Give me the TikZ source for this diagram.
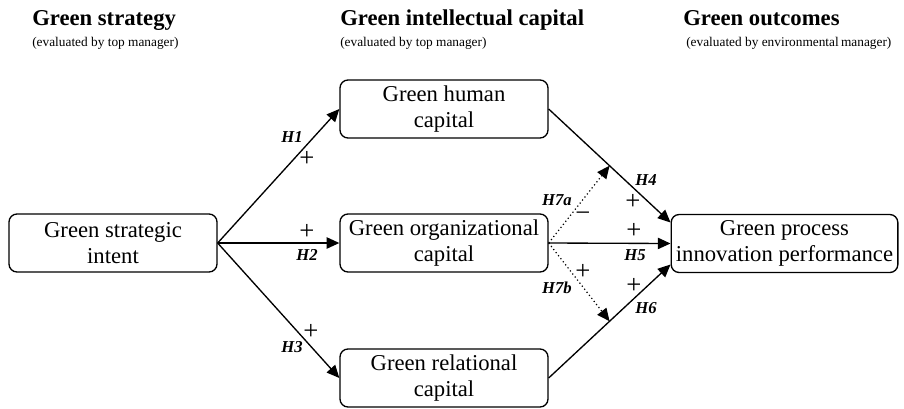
\documentclass[tikz,border=0pt]{standalone}
\usepackage{fontspec}
\setmainfont{Liberation Serif}
\usetikzlibrary{arrows.meta,calc}
\begin{document}
\begin{tikzpicture}[x=0.75pt,y=-0.75pt,
  box/.style={draw,line width=1pt,rounded corners=6pt,minimum width=156pt,minimum height=43.5pt,inner sep=0pt,align=center,font=\fontsize{17}{20}\selectfont},
  arr/.style={line width=1pt,-{Triangle[length=9.5pt,width=8.5pt]}},
  dotarr/.style={line width=0.9pt,dotted,-{Triangle[length=9.5pt,width=8.5pt]}},
  hlab/.style={font=\fontsize{12.5}{14}\selectfont\bfseries\itshape,inner sep=0pt},
  sgn/.style={font=\fontsize{20}{22}\selectfont,inner sep=0pt},
  head/.style={font=\fontsize{17}{19}\selectfont\bfseries,anchor=base west,inner sep=0pt},
  sub/.style={font=\fontsize{10}{12}\selectfont,anchor=base west,inner sep=0pt}]
\useasboundingbox (0,0) rectangle (904,408);
% headers
\node[head] (h1) at (32,25) {Green strategy};
\node[sub] (s1) at (32,46) {(evaluated by top manager)};
\node[head] (h2) at (340,25) {Green intellectual capital};
\node[sub] (s2) at (340,46) {(evaluated by top manager)};
\node[head] (h3) at (683,25) {Green outcomes};
\node[sub] (s3) at (686,46) {(evaluated by environmental\,manager)};
% boxes
\node[box] (gsi) at (113,243) {Green strategic\\intent};
\node[box] (ghc) at (444,109) {Green human\\capital};
\node[box] (goc) at (444,243) {Green organizational\\capital};
\node[box] (grc) at (444,378) {Green relational\\capital};
\node[box,minimum width=170pt] (gpip) at (784.5,243.5) {Green process\\innovation performance};
% end points
\coordinate (e4) at ($(gpip.west)+(0,-21)$);
\coordinate (e6) at ($(gpip.west)+(0,21)$);
\coordinate (m4) at ($(ghc.east)!0.5!(e4)$);
\coordinate (m6) at ($(grc.east)!0.5!(e6)$);
% connectors
\draw[arr] (gsi.east) -- (ghc.west);
\draw[arr] (gsi.east) -- (goc.west);
\draw[arr] (gsi.east) -- (grc.west);
\draw[arr] (ghc.east) -- (e4);
\draw[arr] (goc.east) -- (gpip.west);
\draw[arr] (grc.east) -- (e6);
\draw[dotarr] (goc.east) -- (m4);
\draw[dotarr] (goc.east) -- (m6);
% labels
\node[hlab] (l1) at (292,137) {H1};
\node[sgn] (p1) at (307,159) {+};
\node[sgn] (p2) at (307,232) {+};
\node[hlab] (l2) at (307,255) {H2};
\node[sgn] (p3) at (311,332) {+};
\node[hlab] (l3) at (292,347) {H3};
\node[hlab] (l4) at (646,180) {H4};
\node[sgn] (p4) at (633,202) {+};
\node[hlab] (l7a) at (557,200) {H7a};
\node[sgn] (m7a) at (583,217) {−};
\node[sgn] (p5) at (634,231) {+};
\node[hlab] (l5) at (635,255) {H5};
\node[sgn] (p7b) at (583,272) {+};
\node[hlab] (l7b) at (557,288) {H7b};
\node[sgn] (p6) at (634,286) {+};
\node[hlab] (l6) at (646,308) {H6};
\end{tikzpicture}
\end{document}
